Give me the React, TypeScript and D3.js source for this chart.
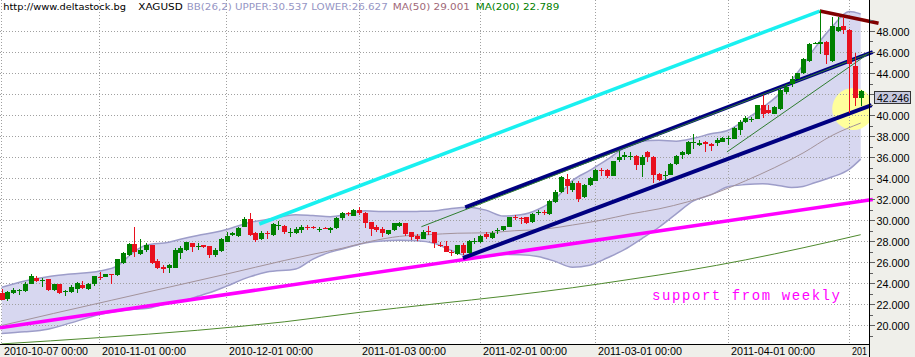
import React from 'react';
import * as d3 from 'd3';

// ---------- DATA ----------
const opens = [23.05,22.44,23.08,23.24,23.24,23.94,24.51,24.22,24.42,23.30,23.88,23.17,23.14,23.46,23.78,23.40,23.88,24.60,24.58,24.85,24.74,25.95,26.65,27.67,26.74,27.13,27.61,26.08,25.53,25.44,25.47,26.87,27.13,27.77,27.48,27.61,27.51,26.65,27.06,27.93,28.56,28.47,29.36,30.10,28.72,28.18,28.75,28.56,29.50,29.43,28.86,28.72,29.04,29.32,29.32,29.12,29.27,29.04,29.20,30.22,30.66,30.42,30.96,30.70,29.84,29.36,29.14,28.63,29.04,29.46,29.74,28.88,28.50,28.18,28.91,28.82,27.64,27.54,26.99,26.75,27.61,26.81,27.97,27.86,28.63,28.25,29.02,29.04,29.36,30.28,30.22,30.26,29.78,30.71,30.80,30.58,31.75,32.62,33.89,32.87,33.55,32.17,33.35,33.76,34.74,34.78,34.21,35.70,36.00,36.10,36.13,35.26,36.44,36.00,34.37,34.22,34.31,35.33,36.16,36.32,37.40,37.18,37.40,37.24,37.34,37.43,37.80,37.75,38.60,39.31,39.61,39.63,41.00,40.46,40.05,40.59,42.18,42.92,43.46,43.97,45.15,46.82,46.75,46.97,45.15,48.02,48.44,48.12,44.67,41.58];
const highs = [23.46,23.24,23.56,23.46,24.10,24.83,24.67,24.48,24.42,23.94,23.94,23.37,23.78,24.10,24.19,24.00,24.64,25.06,24.83,24.90,26.33,26.97,27.77,29.36,28.15,27.83,27.61,26.24,25.69,25.85,27.29,27.51,27.93,27.83,27.77,27.61,27.51,27.29,28.25,28.88,28.88,29.36,30.32,30.64,28.88,28.98,28.98,29.68,29.94,29.52,29.20,29.30,29.52,29.52,29.43,29.36,29.29,29.36,30.32,30.73,30.80,31.02,31.21,30.80,29.84,29.52,29.36,29.04,29.74,29.84,29.74,28.88,28.63,29.04,29.46,28.82,27.93,27.99,27.13,27.61,27.77,28.09,28.25,28.56,28.88,28.98,29.27,29.46,30.32,30.48,30.32,30.32,30.64,30.96,30.96,31.91,32.81,34.21,34.38,33.67,33.70,33.41,34.05,34.85,34.94,34.85,35.65,36.54,36.50,36.44,36.22,36.22,36.54,36.06,34.47,34.69,35.42,36.16,36.54,37.50,38.23,37.65,37.50,37.30,37.82,37.90,38.04,38.85,39.50,39.89,39.82,41.00,41.87,41.00,40.85,42.44,42.92,43.72,44.04,45.47,46.84,46.97,50.03,47.07,49.30,49.30,49.30,48.18,45.95,42.38];
const lows = [22.34,22.28,22.98,22.82,23.14,23.94,24.10,23.62,23.24,23.24,22.98,22.73,23.08,23.05,23.40,23.37,23.72,24.26,24.58,23.94,24.64,25.79,26.58,26.43,26.65,26.97,25.79,25.31,24.96,24.96,25.44,26.27,27.06,26.97,27.13,27.29,26.39,26.49,26.97,27.86,28.47,28.40,29.30,28.47,27.93,28.09,28.15,28.50,29.04,28.63,28.40,28.63,28.72,29.04,29.11,28.88,29.15,28.72,29.11,30.00,30.39,30.39,30.48,29.20,28.50,28.82,28.34,28.56,28.98,29.36,28.47,28.09,28.02,28.18,28.56,27.38,27.45,26.91,26.56,26.65,26.65,26.75,27.70,27.77,28.15,28.15,28.66,28.98,29.30,30.00,29.62,29.62,29.74,30.48,30.48,30.48,31.66,32.55,32.50,32.71,31.75,32.07,33.25,33.67,34.21,33.99,34.21,35.50,35.70,35.74,34.78,34.05,35.49,33.57,33.67,33.83,34.24,35.26,35.81,36.22,36.79,37.08,36.44,36.54,37.02,37.40,37.18,37.70,38.13,39.25,39.31,39.58,39.73,40.05,40.05,40.52,42.03,42.70,43.40,43.90,45.05,46.75,45.79,44.83,45.05,47.86,47.70,40.21,40.85,40.85];
const closes = [22.41,23.14,23.30,23.30,23.94,24.64,24.19,24.26,23.30,23.88,23.08,23.24,23.62,24.00,23.52,23.94,24.64,24.56,24.83,24.81,26.27,26.81,27.67,26.97,27.19,27.61,25.95,25.44,25.34,25.69,27.19,27.29,27.86,27.45,27.51,27.45,26.65,27.13,28.15,28.47,28.72,29.27,30.10,28.56,28.09,28.79,28.70,29.62,29.55,28.82,28.90,29.14,29.36,29.28,29.27,29.16,29.17,29.27,30.22,30.64,30.62,30.96,30.64,29.68,29.14,29.04,28.72,29.04,29.68,29.74,28.66,28.40,28.18,28.82,28.86,27.77,27.59,26.97,26.95,27.61,26.81,27.99,28.01,28.50,28.34,28.72,29.06,29.43,30.26,30.24,30.06,29.74,30.58,30.75,30.64,31.85,32.71,34.08,33.25,33.57,32.00,33.35,33.99,34.78,34.70,34.21,35.58,36.00,36.20,36.12,35.26,35.97,35.97,34.31,33.83,34.26,35.36,36.13,36.48,37.43,37.45,37.34,37.24,37.02,37.66,37.82,37.84,38.77,39.33,39.73,39.65,40.91,40.05,40.21,40.78,42.38,42.70,43.46,43.97,45.37,46.75,46.86,46.97,45.70,48.50,48.34,48.12,44.83,41.64,42.246];

// bar positions (trading-day index) with axis labels; the last label is cut by the axis in the original
const tickIdx = [1, 18, 40, 63, 84, 104, 127, 148];
const tickLabels = ['2010-10-07 00:00','2010-11-01 00:00','2010-12-01 00:00','2011-01-03 00:00','2011-02-01 00:00','2011-03-01 00:00','2011-04-01 00:00','201'];
const yTicks = [20,22,24,26,28,30,32,34,36,38,40,42,44,46,48];
const yLabelled = [20,22,24,26,28,30,32,34,36,38,40,44,46,48];
const yMinor = [19,21,23,25,27,29,31,33,35,37,39,41,43,45,47,49];

// Bollinger band (26,2) read at sample bars
const bbIdx = [1,5,9,13,18,21,24,26,30,32,35,38,40,44,47,52,55,58,61,64,67,70,73,76,79,82,85,88,91,94,97,100,103,106,109,112,115,118,121,124,127,130,133,136,138,140,142,145,148,150];
const bbUpper = [23.6,24.2,24.6,24.85,25.15,25.6,27.0,27.59,27.88,28.16,28.53,28.84,29.1,29.76,30.04,30.51,30.42,30.32,30.57,30.88,30.81,30.80,30.82,30.86,31.1,31.22,30.94,30.38,30.49,31.0,32.0,33.75,34.72,35.74,36.87,37.51,37.59,37.51,37.78,38.21,38.55,39.55,40.71,42.06,43.3,44.75,46.35,48.37,49.85,49.62];
const bbLower = [19.2,19.35,19.6,20.2,21.0,21.3,21.5,21.57,22.08,22.24,22.73,23.26,23.7,24.58,25.04,25.33,26.28,26.94,27.37,27.82,28.01,28.06,28.02,27.78,27.1,26.56,26.54,26.72,26.69,26.52,26.06,25.51,25.70,26.38,27.17,28.21,29.31,30.59,31.82,32.39,33.17,33.37,33.45,33.26,33.1,33.19,33.55,34.09,34.83,35.80];

const ma50Idx = [1,10,20,30,40,50,55,60,65,70,75,80,85,90,95,100,105,110,115,120,125,130,135,140,145,150];
const ma50 = [19.95,21.1,22.35,23.6,24.85,26.14,26.74,27.30,27.97,28.44,28.60,28.74,28.78,28.98,29.12,29.52,29.98,30.57,31.06,31.73,32.60,33.73,34.97,36.38,38.04,39.23];
const ma200Idx = [1,18,35,50,63,76,89,100,110,120,130,140,150];
const ma200 = [18.2,18.8,19.5,20.3,21.2,22.0,22.79,23.55,24.35,25.2,26.2,27.35,28.6];

// hand-drawn trend lines: [bar index, price] pairs
const lineCyan = [[45.68, 29.62], [142.9, 49.90]];
const lineDarkRed = [[142.9, 49.90], [153.1, 48.73]];
const lineNavyUpper = [[81.4, 31.21], [152.1, 46.0]];
const lineNavyLower = [[81.0, 26.38], [151.9, 40.95]];
const lineThin1 = [[73.8, 29.36], [151.6, 45.9]];
const lineThin2 = [[126.8, 36.48], [151.0, 45.71]];
const lineMagenta = [[0.7, 19.74], [152.1, 31.95]];
const circleCenter = [148.7, 40.57];
const lastPrice = 42.246;

// ---------- STYLE ----------
const W = 915, H = 357;
const PR = 870, PB = 344;
const GREEN = '#008000', RED = '#e8101e';
const PANEL = '#efefea';

const x = d3.scaleLinear().domain([1, 150]).range([1.7, 1.7 + 149 * 5.765]);
const y = d3.scaleLinear().domain([20, 48]).range([325, 31]);

export default function App() {
  const pts = (idx: number[], vals: number[]) => idx.map((n, i) => [x(n), y(vals[i])] as [number, number]);
  const band = d3.area<number>()
    .x((_, i) => x(bbIdx[i]))
    .y0((_, i) => y(bbLower[i]))
    .y1((_, i) => y(bbUpper[i]))
    .curve(d3.curveMonotoneX)(bbIdx as any) || '';
  const up = d3.line().curve(d3.curveMonotoneX)(pts(bbIdx, bbUpper)) || '';
  const lo = d3.line().curve(d3.curveMonotoneX)(pts(bbIdx, bbLower)) || '';
  const m50 = d3.line().curve(d3.curveMonotoneX)(pts(ma50Idx, ma50)) || '';
  const m200 = d3.line().curve(d3.curveMonotoneX)(pts(ma200Idx, ma200)) || '';
  const seg = (l: number[][]) => ({ x1: x(l[0][0]), y1: y(l[0][1]), x2: x(l[1][0]), y2: y(l[1][1]) });

  const font = "'DejaVu Sans', Verdana, sans-serif";
  const sans = "'Liberation Sans', Arial, sans-serif";

  return (
    <div style={{ position: 'absolute', left: 0, top: 0 }}>
      <svg width={W} height={H} style={{ display: 'block', background: '#fff' }}>
        <defs>
          <clipPath id="plot"><rect x={0} y={0} width={PR} height={PB} /></clipPath>
        </defs>
        <rect x={0} y={0} width={W} height={H} fill="#fff" />
        <rect x={PR} y={0} width={W - PR} height={H} fill={PANEL} />
        <rect x={0} y={PB} width={PR} height={H - PB} fill={PANEL} />

        <g clipPath="url(#plot)">
          <path d={band} fill="#d7d7f0" />
          <circle cx={x(circleCenter[0])} cy={y(circleCenter[1])} r={21} fill="#ffff9c" />
          {tickIdx.map((n, i) => (
            <line key={'gv' + i} x1={Math.floor(x(n)) + 0.5} x2={Math.floor(x(n)) + 0.5} y1={0} y2={PB}
              stroke="#a0a0a0" strokeDasharray="1 2" />
          ))}
          {yTicks.map((v, i) => (
            <line key={'gh' + i} x1={0} x2={PR} y1={Math.round(y(v)) + 0.5} y2={Math.round(y(v)) + 0.5}
              stroke="#a0a0a0" strokeDasharray="1 2" />
          ))}
          <path d={up} fill="none" stroke="#9d9dc9" strokeWidth={1.5} />
          <path d={lo} fill="none" stroke="#9d9dc9" strokeWidth={1.5} />
          <path d={m50} fill="none" stroke="#a3939b" strokeWidth={1} />
          <path d={m200} fill="none" stroke="#4f8a2e" strokeWidth={1} />
        </g>

        <line {...seg(lineMagenta)} stroke="#ff00ff" strokeWidth={3.5} />
        <line {...seg(lineCyan)} stroke="#19f0f0" strokeWidth={3.5} />
        <line {...seg(lineNavyUpper)} stroke="#000080" strokeWidth={4} />
        <line {...seg(lineNavyLower)} stroke="#000080" strokeWidth={4} />
        <line {...seg(lineThin1)} stroke="#2f7d2f" strokeWidth={1} />
        <line {...seg(lineThin2)} stroke="#2f7d2f" strokeWidth={1} />
        <line {...seg(lineDarkRed)} stroke="#800000" strokeWidth={3.5} />

        <g clipPath="url(#plot)" shapeRendering="crispEdges">
          {closes.map((c, i) => {
            const n = i + 1;
            const o = opens[i];
            const col = c >= o ? GREEN : RED;
            const cx = Math.round(x(n));
            const yt = Math.round(y(Math.max(o, c)));
            const yb = Math.round(y(Math.min(o, c)));
            return (
              <g key={'c' + i}>
                <rect x={cx} y={Math.round(y(highs[i]))} width={1} height={Math.max(1, Math.round(y(lows[i])) - Math.round(y(highs[i])))} fill={col} />
                <rect x={cx - 2} y={yt} width={5} height={Math.max(1, yb - yt)} fill={col} />
              </g>
            );
          })}
        </g>

        {/* axes */}
        <line x1={0} x2={PR} y1={PB + 0.5} y2={PB + 0.5} stroke="#000" shapeRendering="crispEdges" />
        <line x1={PR - 0.5} x2={PR - 0.5} y1={0} y2={H} stroke="#000" shapeRendering="crispEdges" />
        {yTicks.map((v, i) => (
          <line key={'yt' + i} x1={PR} x2={PR + 5} y1={Math.round(y(v)) + 0.5} y2={Math.round(y(v)) + 0.5} stroke="#606060" shapeRendering="crispEdges" />
        ))}
        {yLabelled.map((v, i) => (
          <text key={'yl' + i} x={876.5} y={y(v) + 5} fontFamily={sans} fontSize={10.8} fill="#000" textLength={33} lengthAdjust="spacingAndGlyphs">{v.toFixed(3)}</text>
        ))}
        {yMinor.map((v, i) => (
          <line key={'ym' + i} x1={PR} x2={PR + 3} y1={Math.round(y(v)) + 0.5} y2={Math.round(y(v)) + 0.5} stroke="#606060" shapeRendering="crispEdges" />
        ))}
        {tickIdx.map((n, i) => (
          <text key={'xl' + i} x={Math.floor(x(n)) + 3} y={354.5} fontFamily={sans} fontSize={11} fill="#000"
            textLength={tickLabels[i].length === 16 ? 84 : 15} lengthAdjust="spacingAndGlyphs">{tickLabels[i]}</text>
        ))}

        {/* last price box */}
        <rect x={874.5} y={Math.round(y(lastPrice)) + 0.5} width={36} height={12} fill="#c5c8de" stroke="#333" shapeRendering="crispEdges" />
        <text x={877} y={y(lastPrice) + 10.5} fontFamily={sans} fontSize={10.8} fill="#000" textLength={32} lengthAdjust="spacingAndGlyphs">{lastPrice.toFixed(3)}</text>

        {/* header */}
        <text x={3.3} y={9.8} fontFamily={font} fontSize={9.3} fill="#000" textLength={122.7} lengthAdjust="spacingAndGlyphs">http://www.deltastock.bg</text>
        <text x={138.3} y={9.8} fontFamily={font} fontSize={9.3} fill="#000" textLength={44.4} lengthAdjust="spacingAndGlyphs">XAGUSD</text>
        <text x={186.7} y={9.8} fontFamily={font} fontSize={9.3} fill="#9595c4" textLength={201} lengthAdjust="spacingAndGlyphs">BB(26,2) UPPER:30.537 LOWER:26.627</text>
        <text x={392.7} y={9.8} fontFamily={font} fontSize={9.3} fill="#a06878" textLength={77.3} lengthAdjust="spacingAndGlyphs">MA(50) 29.001</text>
        <text x={475.7} y={9.8} fontFamily={font} fontSize={9.3} fill="#008000" textLength={83.6} lengthAdjust="spacingAndGlyphs">MA(200) 22.789</text>

        <text x={652} y={299.5} fontFamily="'Liberation Mono', 'DejaVu Sans Mono', monospace" fontSize={14} fill="#ff00ff"
          textLength={188} lengthAdjust="spacing">support from weekly</text>
      </svg>
    </div>
  );
}
